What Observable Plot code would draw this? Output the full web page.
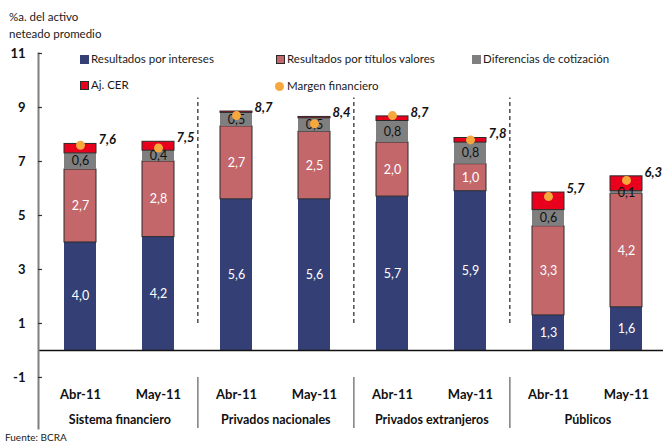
<!DOCTYPE html>
<html><head><meta charset="utf-8">
<script src="https://cdn.jsdelivr.net/npm/d3@7"></script>
<script src="https://cdn.jsdelivr.net/npm/@observablehq/plot@0.6"></script>
<style>
body{margin:0;background:#fff;font-family:Lato,sans-serif;color:#1a1a1a}
#wrap{position:relative;width:663px;height:444px;overflow:hidden}
#wrap svg{position:absolute;left:0;top:0}
.t{position:absolute;white-space:nowrap;font-size:11.5px;line-height:14px}
.sw{position:absolute;width:9px;height:9px;box-sizing:border-box}
</style></head><body><div id="wrap"></div>
<script>
const groups = ["Sistema financiero","Privados nacionales","Privados extranjeros","Públicos"];
const months = ["Abr-11","May-11"];
const seriesNames = ["Resultados por intereses","Resultados por títulos valores","Diferencias de cotización","Aj. CER"];
const intereses = [4.0,4.2,5.6,5.6,5.7,5.9,1.3,1.6];
const titulos = [2.7,2.8,2.7,2.5,2.0,1.0,3.3,4.2];
const cotizacion = [0.6,0.4,0.5,0.5,0.8,0.8,0.6,0.1];
const cer = [0.35,0.33,0.05,0.05,0.17,0.17,0.65,0.55];
const margen = [7.6,7.5,8.7,8.4,8.7,7.8,5.7,6.3];
const yTicks = [-1,1,3,5,7,9,11];
const marginName = "Margen financiero";
const sourceText = "Fuente: BCRA";
const unitLines = ["%a. del activo","neteado promedio"];

const colors = ["#333f75","#c3676b","#7f7f7f","#e9001d"];
const borders = [0,1,0,1];
const dotColor = "#f7a83c";
const fmt = v => v.toFixed(1).replace(".", ",");

const seriesValues = [intereses, titulos, cotizacion, cer];
const bars = [];
groups.forEach(g => months.forEach(m => bars.push({group: g, month: m, key: g + "|" + m})));
const keys = bars.map(b => b.key);
const rows = [];
bars.forEach((b, i) => seriesValues.forEach((vals, s) => rows.push({key: b.key, s, series: seriesNames[s], value: vals[i]})));
const tops = bars.map((b, i) => ({key: b.key, margin: margen[i], top: seriesValues.reduce((a, v) => a + v[i], 0)}));
const groupRows = groups.map(g => ({group: g, first: g + "|" + months[0], last: g + "|" + months[months.length - 1]}));
const sepRows = groupRows.slice(0, -1);

const W = 663, H = 444, ML = 38, MT = 53, MB = 16;
const xRange = [38, 667], pIn = 0.593, pOut = 0.292;
const step = (xRange[1] - xRange[0]) / (keys.length - pIn + 2 * pOut);
const bw = step * (1 - pIn);
const yMin = -2.89, yMax = 11;
const frameW = W - ML;

const plot = Plot.plot({
  width: W, height: H, marginLeft: ML, marginRight: 0, marginTop: MT, marginBottom: MB,
  style: {fontFamily: "Lato, sans-serif", fontSize: "12px", color: "#1a1a1a", background: "transparent", overflow: "visible"},
  x: {type: "band", domain: keys, range: xRange, paddingInner: pIn, paddingOuter: pOut, axis: null},
  y: {domain: [yMin, yMax], axis: null},
  color: {domain: seriesNames, range: colors},
  opacity: {type: "identity"},
  marks: [
    Plot.ruleX(sepRows, {x: "last", dx: step / 2, y1: 1, y2: 9.35, stroke: "#222", strokeWidth: 1.2, strokeDasharray: "4,3"}),
    Plot.ruleX(sepRows, {x: "last", dx: step / 2, y1: -1, y2: yMin, stroke: "#7f7f7f", strokeWidth: 1.5}),
    Plot.barY(rows, {x: "key", y: "value", fill: "series", stroke: "#2a2a2a", strokeWidth: 1, strokeOpacity: d => borders[d.s]}),
    Plot.text(rows, Plot.stackY({x: "key", y: "value", text: d => d.s < 2 ? fmt(d.value) : null, fill: "white", fontSize: 12.5})),
    Plot.text(rows, Plot.stackY({x: "key", y: "value", text: d => d.s === 2 ? fmt(d.value) : null, fill: "#111", fontSize: 12.5})),
    Plot.dot(tops, {x: "key", y: "margin", r: 4.5, fill: dotColor}),
    Plot.text(tops, {x: "key", y: "top", text: d => fmt(d.margin), dx: bw / 2 + 2, dy: -4, textAnchor: "start", fontWeight: "bold", fontStyle: "italic", fontSize: 13, fill: "#111"}),
    Plot.ruleY([0], {stroke: "#111", strokeWidth: 1.5}),
    Plot.frame({anchor: "left", stroke: "#7f7f7f", strokeWidth: 2}),
    Plot.tickY(yTicks, {y: d => d, stroke: "#333", strokeWidth: 1.2, insetRight: frameW - 4}),
    Plot.axisY({ticks: yTicks, tickSize: 0, tickPadding: 13, tickFormat: d => String(d), fontWeight: "bold", fontSize: 13, fill: "#111"}),
    Plot.text(bars, {x: "key", text: "month", frameAnchor: "bottom", dy: -30, fontWeight: "bold", fontSize: 13, fill: "#111"}),
    Plot.text(groupRows, {x: "first", text: "group", frameAnchor: "bottom", dx: step / 2, dy: -5, fontWeight: "bold", fontSize: 12.5, fill: "#111"})
  ]
});

const wrap = document.getElementById("wrap");
wrap.appendChild(plot);

function addText(txt, left, cy, size) {
  const d = document.createElement("div");
  d.className = "t"; d.textContent = txt;
  d.style.left = left + "px"; d.style.top = (cy - 7) + "px";
  if (size) d.style.fontSize = size + "px";
  wrap.appendChild(d);
}
function addSwatch(left, cy, color, border, round) {
  const d = document.createElement("div");
  d.className = "sw";
  d.style.left = left + "px"; d.style.top = (cy - 4.5) + "px";
  d.style.background = color;
  if (border) d.style.border = "1px solid #2a2a2a";
  if (round) d.style.borderRadius = "50%";
  wrap.appendChild(d);
}
addText(unitLines[0], 9, 17);
addText(unitLines[1], 9, 34);
const legendPos = [[80, 59], [276, 59], [472, 59], [80, 85]];
seriesNames.forEach((n, i) => {
  const [lx, ly] = legendPos[i];
  addSwatch(lx, ly, colors[i], borders[i], false);
  addText(n, lx + 11, ly);
});
addSwatch(275, 86, dotColor, false, true);
addText(marginName, 287, 86);
addText(sourceText, 5, 437, 10);
</script></body></html>
